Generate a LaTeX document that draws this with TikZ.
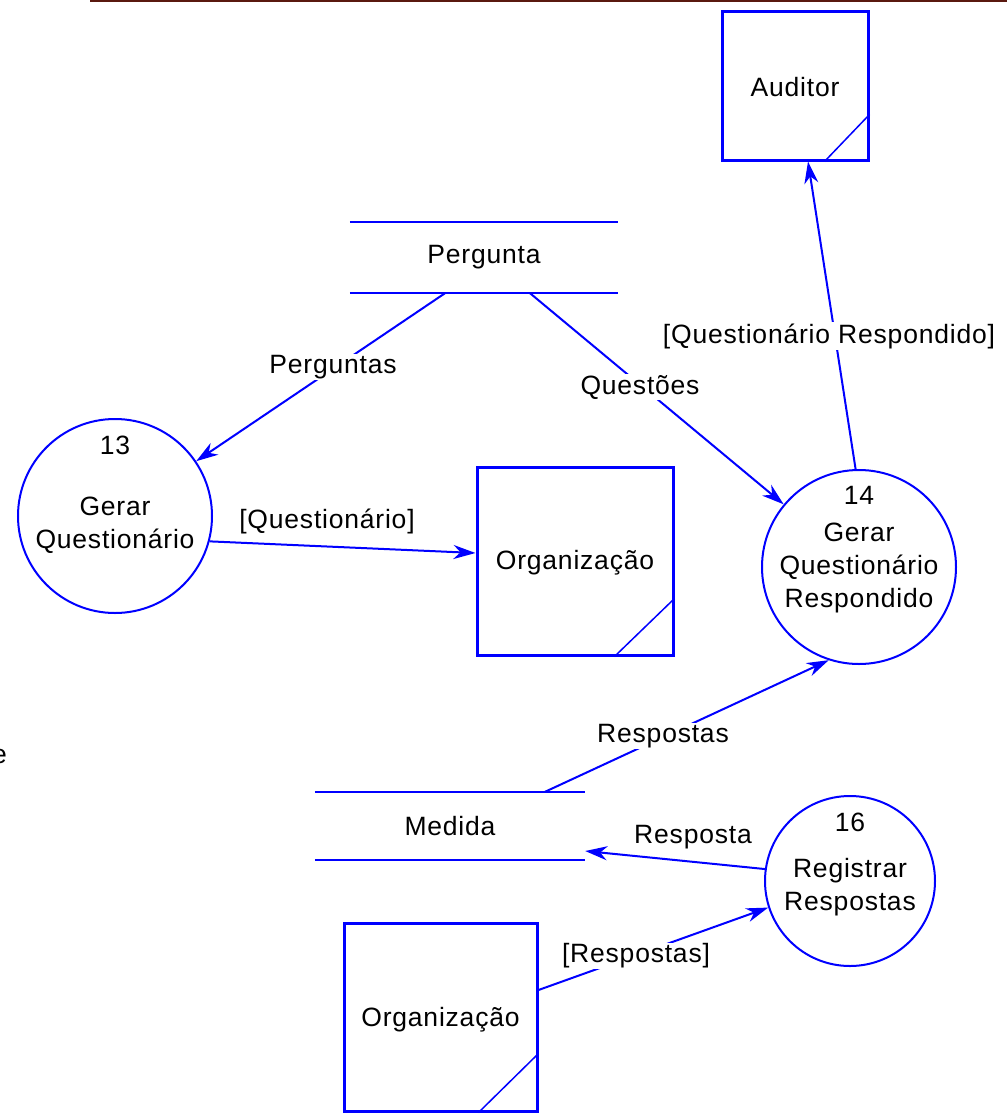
\documentclass[tikz,border=0pt]{standalone}
\usepackage{fontspec}
\setmainfont[LetterSpace=3]{Liberation Sans}
\usetikzlibrary{arrows.meta}
\definecolor{darkred}{RGB}{90,25,15}
\begin{document}
\begin{tikzpicture}[x=1pt,y=-1pt,
  every node/.style={font=\fontsize{26.5}{33}\selectfont},
  ent/.style={draw=blue,line width=3pt,inner sep=0pt},
  corner/.style={draw=blue,line width=1.5pt},
  proc/.style={draw=blue,line width=2pt,circle,inner sep=0pt},
  store/.style={inner sep=0pt},
  storeline/.style={draw=blue,line width=2pt},
  flow/.style={draw=blue,line width=2pt,-{Stealth[length=22pt,width=14pt,inset=7pt]}},
  lbl/.style={fill=white,inner sep=1pt},
  txt/.style={inner sep=0pt,align=center}]
\useasboundingbox (0,0) rectangle (1007,1114);
\fill[white] (0,0) rectangle (1007,1114);
\coordinate (tl) at (90,1);
\coordinate (tr) at (1007,1);
\draw[line width=2pt, color=darkred] (tl) -- (tr);

% external entities
\node[ent,minimum width=146pt,minimum height=149pt] (aud) at (795,85.5) {};
\node[txt] (audt) at (795,87) {Auditor};
\draw[corner] ([yshift=47pt]aud.south east) -- ([xshift=-45pt]aud.south east);
\node[ent,minimum width=196pt,minimum height=188pt] (org1) at (575,561) {};
\node[txt] (org1t) at (575,563) {Organização};
\draw[corner] ([yshift=58pt]org1.south east) -- ([xshift=-60pt]org1.south east);
\node[ent,minimum width=193pt,minimum height=188pt] (org2) at (440.5,1017) {};
\node[txt] (org2t) at (440.5,1020) {Organização};
\draw[corner] ([yshift=59pt]org2.south east) -- ([xshift=-60pt]org2.south east);

% data stores
\node[store,minimum width=268pt,minimum height=71pt] (per) at (484,257.5) {Pergunta};
\draw[storeline] (per.north west) -- (per.north east);
\draw[storeline] (per.south west) -- (per.south east);
\node[store,minimum width=270pt,minimum height=68pt] (med) at (450,826) {Medida};
\draw[storeline] (med.north west) -- (med.north east);
\draw[storeline] (med.south west) -- (med.south east);

% processes
\node[proc,minimum size=194pt] (c13) at (115,516) {};
\node[txt] (c13n) at (115,445) {13};
\node[txt] (c13t) at (115,525) {Gerar\\Questionário};
\node[proc,minimum size=194pt] (c14) at (859,567) {};
\node[txt] (c14n) at (859,495) {14};
\node[txt] (c14t) at (859,568) {Gerar\\Questionário\\Respondido};
\node[proc,minimum size=170pt] (c16) at (850,881) {};
\node[txt] (c16n) at (850,822) {16};
\node[txt] (c16t) at (850,887) {Registrar\\Respostas};

% flows
\draw[flow] ([xshift=-39pt]per.south) -- (c13);
\draw[flow] ([xshift=46pt]per.south) -- (c14);
\draw[flow] (c13.-15) -- ([yshift=8pt]org1.west);
\draw[flow] (c14.92) -- ([xshift=13pt]aud.south);
\draw[flow] ([xshift=95pt]med.north) -- (c14.-108);
\draw[flow] (c16.172) -- ([yshift=-25pt]med.east);
\draw[flow] ([yshift=27pt]org2.east) -- (c16.198);

% labels
\node[lbl] (l1) at (333,367) {Perguntas};
\node[lbl] (l2) at (640,387) {Questões};
\node[lbl] (l3) at (327,521) {[Questionário]};
\node[lbl] (l4) at (829,336) {[Questionário Respondido]};
\node[lbl] (l5) at (663,736) {Respostas};
\node[lbl] (l6) at (693,837) {Resposta};
\node[lbl] (l7) at (636,956) {[Respostas]};
\node[anchor=base east,inner sep=0pt] (ee) at (7,763) {e};
\end{tikzpicture}
\end{document}
